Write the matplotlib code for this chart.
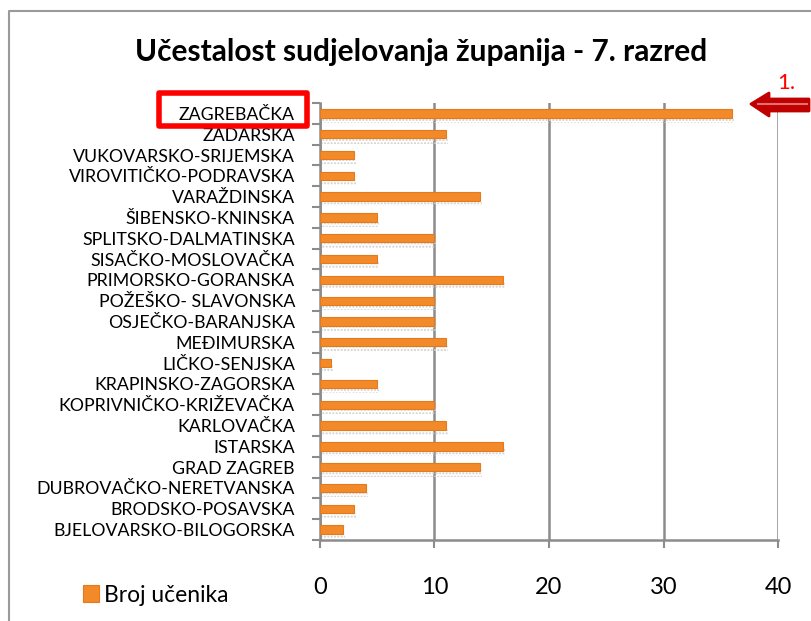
import matplotlib
matplotlib.use("Agg")
import matplotlib.pyplot as plt
from matplotlib.patches import Rectangle, Polygon
import numpy as np

plt.rcParams['font.family'] = ['Lato', 'DejaVu Sans']
plt.rcParams['hatch.linewidth'] = 1.0

# Counties from bottom to top, as they appear on the axis
zupanije = [
    "BJELOVARSKO-BILOGORSKA", "BRODSKO-POSAVSKA", "DUBROVAČKO-NERETVANSKA",
    "GRAD ZAGREB", "ISTARSKA", "KARLOVAČKA", "KOPRIVNIČKO-KRIŽEVAČKA",
    "KRAPINSKO-ZAGORSKA", "LIČKO-SENJSKA", "MEĐIMURSKA", "OSJEČKO-BARANJSKA",
    "POŽEŠKO- SLAVONSKA", "PRIMORSKO-GORANSKA", "SISAČKO-MOSLOVAČKA",
    "SPLITSKO-DALMATINSKA", "ŠIBENSKO-KNINSKA", "VARAŽDINSKA",
    "VIROVITIČKO-PODRAVSKA", "VUKOVARSKO-SRIJEMSKA", "ZADARSKA", "ZAGREBAČKA",
]
broj_ucenika = [2, 3, 4, 14, 16, 11, 10, 5, 1, 11, 10, 10, 16, 5, 10, 5, 14, 3, 3, 11, 36]
x_ticks = [0, 10, 20, 30, 40]

W, H = 812, 621
fig = plt.figure(figsize=(W / 100, H / 100), dpi=100)
ax = fig.add_axes([320 / W, 1 - 540 / H, (778 - 320) / W, (540 - 103) / H])

y = np.arange(len(zupanije))
grey = '#8c8c8c'

# soft dotted shadow under each bar
ax.barh(y - 0.3, broj_ucenika, height=0.3, left=0.15, facecolor='none',
        edgecolor='#cfcfcf', hatch='.....', linewidth=0, zorder=2)
bars = ax.barh(y, broj_ucenika, height=0.4, color='#f28a2a',
               edgecolor='#e5791c', linewidth=0.8, zorder=3, label='Broj učenika')

ax.set_xlim(0, 40)
ax.set_ylim(-0.5, len(zupanije) - 0.5)
ax.set_xticks(x_ticks)
ax.set_xticklabels([str(t) for t in x_ticks], fontsize=17)
ax.set_yticks(y)
ax.set_yticklabels(zupanije, fontsize=12.8)
ax.set_yticks(np.arange(-0.5, len(zupanije)), minor=True)
ax.tick_params(axis='y', which='major', length=0, pad=18)
ax.tick_params(axis='y', which='minor', length=6, width=1.5, color=grey)
ax.tick_params(axis='x', length=6, width=1.5, color=grey, pad=21)

ax.grid(axis='x', color=grey, linewidth=1.8, zorder=0)
for side in ['top', 'right']:
    ax.spines[side].set_visible(False)
for side in ['left', 'bottom']:
    ax.spines[side].set_color(grey)
    ax.spines[side].set_linewidth(1.8)

fig.text(421 / W, 1 - 52 / H, 'Učestalost sudjelovanja županija - 7. razred',
         ha='center', va='center', fontsize=21.5, fontweight='bold')

ax.legend(loc='center left', bbox_to_anchor=(62 / W, 1 - 595 / H),
          bbox_transform=fig.transFigure, frameon=False, fontsize=16.5,
          handlelength=0.7, handleheight=0.7, handletextpad=0.25)

# overlay in pixel coordinates for the frame and highlight marks
ov = fig.add_axes([0, 0, 1, 1], zorder=10)
ov.set_xlim(0, W)
ov.set_ylim(H, 0)
ov.axis('off')
ov.plot([9, 9, 812], [625, 11, 11], color='#9a9a9a', linewidth=1.5)
ov.add_patch(Rectangle((159, 93), 148, 33, fill=False, edgecolor='#ff0000',
                       linewidth=4, joinstyle='round'))
ov.add_patch(Polygon([(751, 104), (769, 93), (769, 99), (809, 99), (809, 111),
                      (769, 111), (769, 116)], closed=True,
                     facecolor='#c00000', edgecolor='#c00000', linewidth=2,
                     joinstyle='round'))
ov.plot([758, 807], [104, 104], color='#e07070', linewidth=1.5)
ov.text(786, 83, '1.', color='#ff0000', fontsize=16, ha='center', va='center')

fig.savefig('out.png', dpi=100)
